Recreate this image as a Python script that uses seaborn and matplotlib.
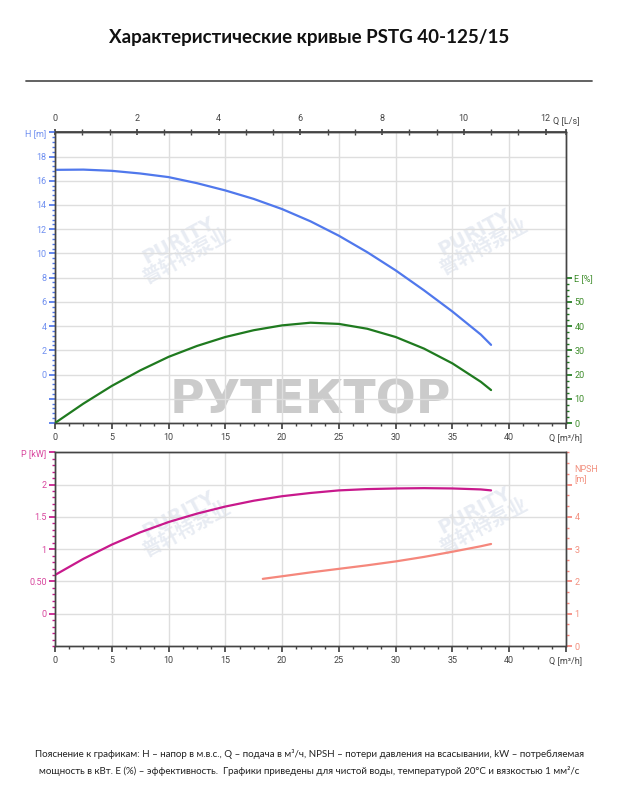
import numpy as np
import pandas as pd
import matplotlib
matplotlib.use("Agg")
import matplotlib.pyplot as plt
import seaborn as sns
from matplotlib.ticker import MultipleLocator, FixedLocator, FixedFormatter
from matplotlib.lines import Line2D

# ---------------- data ----------------
q_h = [0, 2.5, 5, 7.5, 10, 12.5, 15, 17.5, 20, 22.5, 25, 27.5, 30, 32.5, 35, 37.5, 38.4]
h_m = [16.9, 16.92, 16.82, 16.6, 16.3, 15.8, 15.2, 14.5, 13.66, 12.65, 11.46, 10.1, 8.6, 6.95, 5.2, 3.3, 2.45]

q_e = [0, 2.5, 5, 7.5, 10, 12.5, 15, 17.5, 20, 22.5, 25, 27.5, 30, 32.5, 35, 37.5, 38.4]
e_pct = [0, 8.0, 15.3, 21.7, 27.3, 31.8, 35.5, 38.3, 40.3, 41.4, 40.9, 38.9, 35.5, 30.7, 24.6, 17.0, 13.6]

q_p = [0, 2.5, 5, 7.5, 10, 12.5, 15, 17.5, 20, 22.5, 25, 27.5, 30, 32.5, 35, 37.5, 38.4]
p_kw = [0.6, 0.85, 1.07, 1.26, 1.42, 1.55, 1.66, 1.75, 1.82, 1.87, 1.91, 1.93, 1.94, 1.945, 1.94, 1.925, 1.91]

q_npsh = [18.3, 20, 22.5, 25, 27.5, 30, 32.5, 35, 37.5, 38.4]
npsh_m = [2.08, 2.16, 2.28, 2.39, 2.5, 2.62, 2.76, 2.92, 3.09, 3.16]

q_ticks = [0, 5, 10, 15, 20, 25, 30, 35, 40]
qls_ticks = [0, 2, 4, 6, 8, 10, 12]
h_ticks = [0, 2, 4, 6, 8, 10, 12, 14, 16, 18]
e_ticks = [0, 10, 20, 30, 40, 50]
p_ticks = [0, 0.5, 1, 1.5, 2]
p_labels = ["0", "0.50", "1", "1.5", "2"]
npsh_ticks = [0, 1, 2, 3, 4]

title = "Характеристические кривые PSTG 40-125/15"
footer1 = ("Пояснение к графикам: H – напор в м.в.с., Q – подача в м³/ч, NPSH – потери давления на всасывании, "
           "kW – потребляемая")
footer2 = ("мощность в кВт. E (%) – эффективность.  Графики приведены для чистой воды, температурой 20°C "
           "и вязкостью 1 мм²/с")

# ---------------- style ----------------
sns.set_theme(style="white")
plt.rcParams["font.family"] = ["DejaVu Sans", "Noto Sans CJK SC"]

C_H = "#5078ec"
C_HT = "#6f8ff0"
C_E = "#1f7a1f"
C_ET = "#3d8c2a"
C_P = "#c8198c"
C_PT = "#d8479e"
C_N = "#f5877c"
C_NT = "#f2907f"
C_SP = "#444444"
C_GR = "#dedede"
TF = ["Roboto", "DejaVu Sans"]
TS = 6.5

fig = plt.figure(figsize=(6.19, 8.0), dpi=100)
fig.patch.set_facecolor("white")

W, H = 619, 800
def fx(px): return px / W
def fy(py): return 1 - py / H

L, R = 55, 566
ax1 = fig.add_axes([fx(L), fy(423), fx(R) - fx(L), fy(132.3) - fy(423)])
ax2 = fig.add_axes([fx(L), fy(646), fx(R) - fx(L), fy(452.3) - fy(646)])

def style_spines(ax):
    for s in ax.spines.values():
        s.set_color(C_SP)
        s.set_linewidth(1.0)

# ---------------- top chart ----------------
ax1.set_xlim(0, 45)
ax1.set_ylim(-4, 20)
ax1e = ax1.twinx()
ax1e.set_ylim(0, 120)

# watermarks
ax1.text(0.5, 0.075, "РУТЕКТОР", transform=ax1.transAxes, ha="center", va="center",
         fontsize=34, fontweight="bold", color="#cbcbcb", zorder=0.5)
for (xx, yy) in [(0.25, 0.6), (0.83, 0.63)]:
    ax1.text(xx, yy, "PURITY\n普轩特泵业", transform=ax1.transAxes, ha="center", va="center",
             fontsize=14, fontweight="bold", color="#e8ecf3", rotation=28, zorder=0.5,
             linespacing=0.9)

sns.lineplot(x=q_h, y=h_m, ax=ax1, color=C_H, linewidth=1.6, zorder=3)
sns.lineplot(x=q_e, y=e_pct, ax=ax1e, color=C_E, linewidth=1.6, zorder=3)

ax1.xaxis.set_major_locator(FixedLocator(q_ticks + [45]))
ax1.xaxis.set_major_formatter(FixedFormatter([str(v) for v in q_ticks] + ["Q [m³/h]"]))
ax1.xaxis.set_minor_locator(MultipleLocator(1.25))
ax1.yaxis.set_major_locator(FixedLocator([-4, -2] + h_ticks + [20]))
ax1.yaxis.set_major_formatter(FixedFormatter(["", ""] + [str(v) for v in h_ticks] + ["H [m]"]))
ax1.yaxis.set_minor_locator(MultipleLocator(0.4))
ax1.grid(True, which="major", color=C_GR, linewidth=1.0)
ax1.set_axisbelow(True)
ax1.tick_params(axis="x", which="both", direction="out", colors=C_SP, bottom=True, top=False,
                labelsize=TS, pad=3)
ax1.tick_params(axis="x", which="major", length=4)
ax1.tick_params(axis="x", which="minor", length=2.5)
ax1.tick_params(axis="y", which="both", direction="out", colors=C_H, left=True, labelsize=TS,
                labelcolor=C_HT, pad=2)
ax1.tick_params(axis="y", which="major", length=4)
ax1.tick_params(axis="y", which="minor", length=2)

ax1e.yaxis.set_major_locator(FixedLocator(e_ticks + [60]))
ax1e.yaxis.set_major_formatter(FixedFormatter([str(v) for v in e_ticks] + ["E [%]"]))
ax1e.yaxis.set_minor_locator(FixedLocator([v for v in np.arange(0, 62.5, 2.5)]))
ax1e.tick_params(axis="y", which="both", direction="out", colors=C_E, labelcolor=C_ET,
                 labelsize=TS, pad=2)
ax1e.tick_params(axis="y", which="major", length=4)
ax1e.tick_params(axis="y", which="minor", length=2)
ax1e.grid(False)
ax1e.set_ylabel("")
ax1.set_ylabel("")
ax1.set_xlabel("")

sec = ax1.secondary_xaxis("top", functions=(lambda q: q / 3.6, lambda l: l * 3.6))
sec.xaxis.set_major_locator(FixedLocator(qls_ticks + [12.5]))
sec.xaxis.set_major_formatter(FixedFormatter([str(v) for v in qls_ticks] + [""]))
sec.xaxis.set_minor_locator(MultipleLocator(2 / 3))
sec.tick_params(axis="x", which="both", direction="inout", colors=C_SP, labelsize=TS, pad=4)
sec.tick_params(axis="x", which="major", length=5)
sec.tick_params(axis="x", which="minor", length=4)
sec.spines["top"].set_color(C_SP)
ax1.text(1.0, 1.0, "Q [L/s]", transform=ax1.transAxes, ha="center", va="bottom",
         fontsize=TS, family=TF, color=C_SP)
ax1.texts[-1].set_y(1.0 + 7.5 / 290.7)

for a in (ax1, ax1e):
    style_spines(a)
for lab in ax1.get_xticklabels() + ax1.get_yticklabels() + ax1e.get_yticklabels() + sec.get_xticklabels():
    lab.set_family(TF)

# ---------------- bottom chart ----------------
ax2.set_xlim(0, 45)
ax2.set_ylim(-0.5, 2.5)
ax2n = ax2.twinx()
ax2n.set_ylim(0, 6)

for (xx, yy) in [(0.25, 0.64), (0.83, 0.66)]:
    ax2.text(xx, yy, "PURITY\n普轩特泵业", transform=ax2.transAxes, ha="center", va="center",
             fontsize=14, fontweight="bold", color="#e8ecf3", rotation=28, zorder=0.5,
             linespacing=0.9)

sns.lineplot(x=q_p, y=p_kw, ax=ax2, color=C_P, linewidth=1.6, zorder=3)
sns.lineplot(x=q_npsh, y=npsh_m, ax=ax2n, color=C_N, linewidth=1.6, zorder=3)

ax2.xaxis.set_major_locator(FixedLocator(q_ticks + [45]))
ax2.xaxis.set_major_formatter(FixedFormatter([str(v) for v in q_ticks] + ["Q [m³/h]"]))
ax2.xaxis.set_minor_locator(MultipleLocator(1.25))
ax2.yaxis.set_major_locator(FixedLocator(p_ticks + [2.5]))
ax2.yaxis.set_major_formatter(FixedFormatter(p_labels + ["P [kW]"]))
ax2.yaxis.set_minor_locator(MultipleLocator(0.1))
ax2.grid(True, which="major", color=C_GR, linewidth=1.0)
ax2.set_axisbelow(True)
ax2.tick_params(axis="x", which="both", direction="out", colors=C_SP, bottom=True, top=False,
                labelsize=TS, pad=3)
ax2.tick_params(axis="x", which="major", length=4)
ax2.tick_params(axis="x", which="minor", length=2.5)
ax2.tick_params(axis="y", which="both", direction="out", colors=C_P, labelcolor=C_PT,
                left=True, labelsize=TS, pad=2)
ax2.tick_params(axis="y", which="major", length=4)
ax2.tick_params(axis="y", which="minor", length=2)

ax2n.yaxis.set_major_locator(FixedLocator(npsh_ticks + [5]))
ax2n.yaxis.set_major_formatter(FixedFormatter([str(v) for v in npsh_ticks] + ["NPSH\n[m]"]))
ax2n.yaxis.set_minor_locator(MultipleLocator(1 / 3))
ax2n.tick_params(axis="y", which="both", direction="out", colors=C_N, labelcolor=C_NT,
                 labelsize=TS, pad=2)
ax2n.tick_params(axis="y", which="major", length=4)
ax2n.tick_params(axis="y", which="minor", length=2)
ax2n.grid(False)
ax2n.set_ylabel("")
ax2.set_ylabel("")
ax2.set_xlabel("")

for a in (ax2, ax2n):
    style_spines(a)
for lab in ax2.get_xticklabels() + ax2.get_yticklabels() + ax2n.get_yticklabels():
    lab.set_family(TF)
ax2n.get_yticklabels()[-1].set_verticalalignment("bottom")
ax2n.get_yticklabels()[-1].set_horizontalalignment("left")

# ---------------- title, rule, footer ----------------
fig.text(0.5, fy(37), title, ha="center", va="center", fontsize=13.5, fontweight="bold",
         family=["Lato", "DejaVu Sans"], color="#111111")
fig.add_artist(Line2D([fx(26), fx(592)], [fy(81), fy(81)], color="#555555", linewidth=1.3))
fig.text(0.5, fy(754), footer1, ha="center", va="center", fontsize=7.0,
         family=["Lato", "DejaVu Sans"], color="#222222")
fig.text(0.5, fy(771), footer2, ha="center", va="center", fontsize=7.0,
         family=["Lato", "DejaVu Sans"], color="#222222")

fig.savefig("out.png", dpi=100, facecolor="white")
